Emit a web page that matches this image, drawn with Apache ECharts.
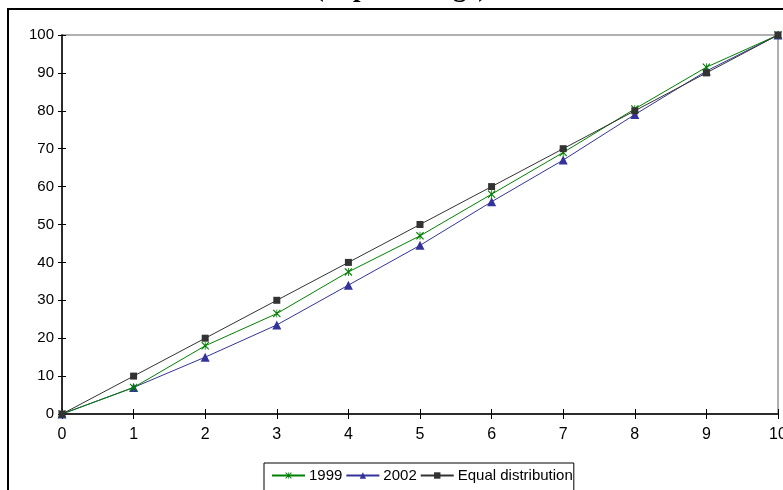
<!DOCTYPE html>
<html>
<head>
<meta charset="utf-8">
<script src="https://cdn.jsdelivr.net/npm/echarts@6/dist/echarts.min.js"></script>
<style>
  html, body { margin: 0; padding: 0; background: #fff; }
  #chart { width: 783px; height: 490px; }
</style>
</head>
<body>
<div id="chart"></div>
<script>
// deciles on the x axis, cumulative share in percent on the y axis
const deciles = [0, 1, 2, 3, 4, 5, 6, 7, 8, 9, 10]
const share1999 = [0, 7, 18, 26.5, 37.5, 47, 58, 69, 80.5, 91.5, 100]
const share2002 = [0, 7, 15, 23.5, 34, 44.5, 56, 67, 79, 90.5, 100]
const shareEqual = [0, 10, 20, 30, 40, 50, 60, 70, 80, 90, 100]
const yTicks = [0, 10, 20, 30, 40, 50, 60, 70, 80, 90, 100]

const toPairs = arr => deciles.map((d, i) => [d, arr[i]])

// excel style star marker (x with a vertical bar)
const starPath = 'path://M0,1L1,0L5,4L9,0L10,1L6,5L10,9L9,10L5,6L1,10L0,9L4,5Z M4.5,0L5.5,0L5.5,10L4.5,10Z'

const chart = echarts.init(document.getElementById('chart'))
const font = 'Liberation Sans, Arial, sans-serif'

const option = {
  animation: false,
  backgroundColor: '#fff',
  graphic: [
    {
      type: 'rect',
      shape: { x: 8, y: 9, width: 800, height: 500 },
      style: { fill: 'none', stroke: '#000', lineWidth: 2 },
      z: 0
    },
    {
      type: 'text',
      x: 401,
      y: 3,
      style: {
        text: '(in percentage)',
        fontFamily: 'Liberation Serif, Times New Roman, serif',
        fontWeight: 'bold',
        fontSize: 27,
        fill: '#000',
        align: 'center',
        verticalAlign: 'bottom'
      }
    }
  ],
  grid: {
    left: 62,
    right: 5,
    top: 35,
    bottom: 76,
    outerBoundsMode: 'none',
    show: true,
    borderColor: '#b0b0b0',
    borderWidth: 2,
    backgroundColor: 'transparent'
  },
  legend: {
    left: 264,
    top: 463,
    padding: [5, 1, 8, 7],
    borderColor: '#000',
    borderWidth: 1,
    itemGap: 3,
    itemWidth: 33,
    itemHeight: 8,
    textStyle: { fontFamily: font, fontSize: 15, color: '#000', padding: [0, 0, 0, -1] },
    data: ['1999', '2002', 'Equal distribution']
  },
  xAxis: [
    {
      type: 'value',
      min: 0,
      max: 10,
      interval: 1,
      offset: 3,
      axisLine: { show: true, lineStyle: { color: '#000', width: 1.5 } },
      axisTick: { show: true, length: 5, lineStyle: { color: '#000' } },
      axisLabel: { fontFamily: font, fontSize: 16, color: '#000', margin: 10, formatter: v => String(v) },
      splitLine: { show: false }
    },
    {
      type: 'value',
      min: 0,
      max: 10,
      interval: 1,
      position: 'bottom',
      offset: 3,
      axisLine: { show: false },
      axisTick: { show: true, inside: true, length: 5, lineStyle: { color: '#000' } },
      axisLabel: { show: false },
      splitLine: { show: false }
    }
  ],
  yAxis: [
    {
      type: 'value',
      min: 0,
      max: 100,
      interval: 10,
      axisLine: { show: true, lineStyle: { color: '#000', width: 1.5 } },
      axisTick: { show: true, length: 4, lineStyle: { color: '#000' } },
      axisLabel: {
        fontFamily: font, fontSize: 15, color: '#000', margin: 8,
        formatter: v => (yTicks.includes(v) ? String(v) : '')
      },
      splitLine: { show: false }
    },
    {
      type: 'value',
      min: 0,
      max: 100,
      interval: 10,
      position: 'left',
      axisLine: { show: false },
      axisTick: { show: true, inside: true, length: 4, lineStyle: { color: '#000' } },
      axisLabel: { show: false },
      splitLine: { show: false }
    }
  ],
  series: [
    {
      name: '1999',
      type: 'line',
      data: toPairs(share1999),
      symbol: starPath,
      symbolSize: 8,
      showAllSymbol: true,
      itemStyle: { color: '#008000' },
      lineStyle: { color: '#008000', width: 1 },
      z: 3
    },
    {
      name: '2002',
      type: 'line',
      data: toPairs(share2002),
      symbol: 'triangle',
      symbolSize: 9,
      showAllSymbol: true,
      itemStyle: { color: '#333399' },
      lineStyle: { color: '#333399', width: 1 },
      z: 2
    },
    {
      name: 'Equal distribution',
      type: 'line',
      data: toPairs(shareEqual),
      symbol: 'rect',
      symbolSize: 7,
      showAllSymbol: true,
      itemStyle: { color: '#333333' },
      lineStyle: { color: '#333333', width: 1 },
      z: 4
    }
  ]
}
chart.setOption(option)
</script>
</body>
</html>
